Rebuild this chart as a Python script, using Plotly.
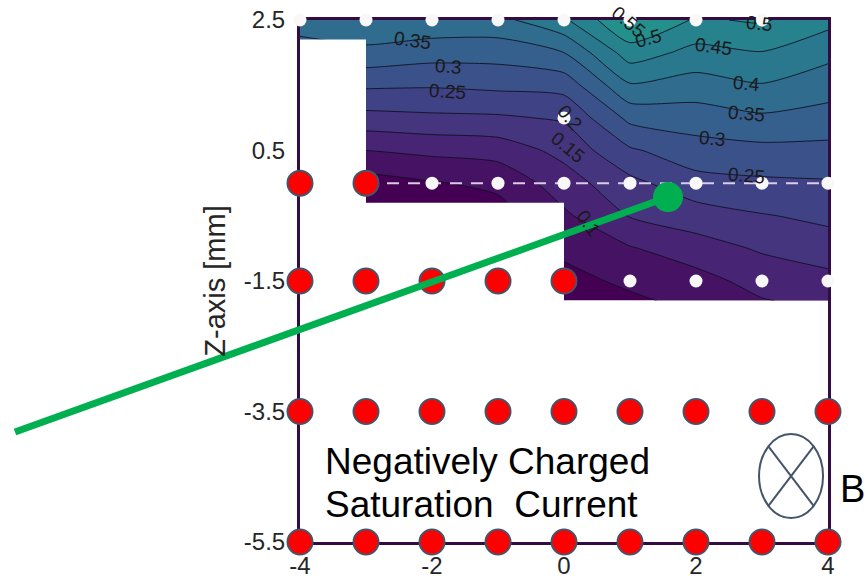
import plotly.graph_objects as go

# ---------------- data ----------------
grid_x = [-4, -3, -2, -1, 0, 1, 2, 3, 4]
grid_y = [-1.8, -1.5, -1.0, -0.5, 0.0, 0.5, 1.0, 1.5, 2.0, 2.5]
# z values per x column, listed from y=-1.8 up to y=2.5
col_m4 = [0.02, 0.02, 0.02, 0.02, 0.030, 0.100, 0.180, 0.260, 0.330, 0.370]
col_m3 = [0.02, 0.02, 0.02, 0.02, 0.029, 0.100, 0.183, 0.258, 0.336, 0.395]
col_m2 = [0.02, 0.02, 0.02, 0.02, 0.046, 0.112, 0.190, 0.255, 0.321, 0.387]
col_m1 = [0.02, 0.02, 0.02, 0.03, 0.061, 0.121, 0.193, 0.262, 0.321, 0.385]
col_0 = [0.015, 0.032, 0.062, 0.091, 0.127, 0.165, 0.206, 0.269, 0.350, 0.442]
col_1 = [0.040, 0.061, 0.096, 0.153, 0.186, 0.243, 0.313, 0.395, 0.476, 0.555]
col_2 = [0.065, 0.081, 0.128, 0.176, 0.232, 0.279, 0.325, 0.378, 0.434, 0.494]
col_3 = [0.097, 0.119, 0.156, 0.197, 0.241, 0.286, 0.342, 0.397, 0.448, 0.506]
col_4 = [0.113, 0.132, 0.180, 0.210, 0.245, 0.286, 0.330, 0.373, 0.414, 0.466]
columns = [col_m4, col_m3, col_m2, col_m1, col_0, col_1, col_2, col_3, col_4]
z = [[col[j] for col in columns] for j in range(len(grid_y))]

# region without data (drawn white)
mask_x = [-4.3, -4.3, -3.0, -3.0, 0.0, 0.0, -4.3]
mask_y = [-1.95, 2.2, 2.2, -0.3, -0.3, -1.95, -1.95]

# measurement points
white_x = [-4, -3, -2, -1, 0, 1, 2, 3, 0, -2, -1, 0, 1, 2, 3, 4, 1, 2, 3, 4]
white_y = [2.5, 2.5, 2.5, 2.5, 2.5, 2.5, 2.5, 2.5, 1.0, 0, 0, 0, 0, 0, 0, 0, -1.5, -1.5, -1.5, -1.5]
red_x = [-4, -3, -4, -3, -2, -1, 0] + [-4, -3, -2, -1, 0, 1, 2, 3, 4] * 2
red_y = [0, 0] + [-1.5] * 5 + [-3.5] * 9 + [-5.5] * 9

dash_x = [-3, 4]
dash_y = [0, 0]

green_x = [-8.318, 1.576]
green_y = [-3.814, -0.213]

# contour labels
clabel_text = ['0.35', '0.3', '0.25', '0.2', '0.15', '0.1', '0.55', '0.5', '0.45',
               '0.4', '0.35', '0.3', '0.25', '0.5']
clabel_x = [-2.29, -1.76, -1.76, 0.09, 0.06, 0.36, 0.97, 1.27, 2.26, 2.76, 2.76, 2.24, 2.76, 2.95]
clabel_y = [2.19, 1.78, 1.40, 1.01, 0.54, -0.61, 2.47, 2.22, 2.09, 1.53, 1.06, 0.68, 0.12, 2.44]
clabel_angle = [8, 4, 4, 50, 40, 55, 40, -15, 8, 5, 5, 5, 5, 5]

xtick_vals = [-4, -2, 0, 2, 4]
xtick_text = ['-4', '-2', '0', '2', '4']
ytick_vals = [2.5, 0.5, -1.5, -3.5, -5.5]
ytick_text = ['2.5', '0.5', '-1.5', '-3.5', '-5.5']

# ---------------- layout geometry ----------------
W, H = 868, 584
XD = [300 / W, 828 / W]
YD = [1 - 542 / H, 1 - 20 / H]
xr = [-4, 4]
yr = [-5.5, 2.5]
x2r = [xr[0] - (xr[1] - xr[0]) * XD[0] / (XD[1] - XD[0]),
       xr[1] + (xr[1] - xr[0]) * (1 - XD[1]) / (XD[1] - XD[0])]
y2r = [yr[0] - (yr[1] - yr[0]) * YD[0] / (YD[1] - YD[0]),
       yr[1] + (yr[1] - yr[0]) * (1 - YD[1]) / (YD[1] - YD[0])]

FONT = 'Liberation Sans, Arial, sans-serif'

fig = go.Figure()
fig.add_trace(go.Contour(
    x=grid_x, y=grid_y, z=z, colorscale='Viridis',
    contours=dict(start=0.05, end=1.0, size=0.05, coloring='fill', showlabels=False),
    line=dict(color='rgba(15,15,30,0.85)', width=1, smoothing=0.6),
    showscale=False, hoverinfo='skip'))
fig.add_trace(go.Scatter(x=mask_x, y=mask_y, mode='lines', fill='toself',
                         fillcolor='white', line=dict(width=0, color='white'),
                         hoverinfo='skip', showlegend=False))
fig.add_trace(go.Scatter(x=dash_x, y=dash_y, mode='lines',
                         line=dict(color='rgba(228,212,240,0.95)', width=2, dash='12px,9px'),
                         hoverinfo='skip', showlegend=False))
fig.add_trace(go.Scatter(x=white_x, y=white_y, mode='markers', cliponaxis=False,
                         marker=dict(size=13, color='#f8f8f8', line=dict(width=0)),
                         hoverinfo='skip', showlegend=False))
fig.add_trace(go.Scatter(x=red_x, y=red_y, mode='markers', cliponaxis=False,
                         marker=dict(size=25, color='#ff0000', line=dict(width=2, color='#44546a')),
                         hoverinfo='skip', showlegend=False))
fig.add_trace(go.Scatter(x=green_x, y=green_y, xaxis='x2', yaxis='y2', mode='lines',
                         line=dict(color='#00b050', width=7),
                         hoverinfo='skip', showlegend=False))
fig.add_trace(go.Scatter(x=green_x[1:], y=green_y[1:], xaxis='x2', yaxis='y2', mode='markers',
                         cliponaxis=False, marker=dict(size=30, color='#00b050'),
                         hoverinfo='skip', showlegend=False))

annotations = []
for t, x, y, a in zip(clabel_text, clabel_x, clabel_y, clabel_angle):
    annotations.append(dict(x=x, y=y, xref='x', yref='y', text=t, showarrow=False,
                            textangle=a, font=dict(family=FONT, size=19, color='#1a1a1a')))
annotations.append(dict(x=-3.65, y=-4.26, xref='x', yref='y', xanchor='left', yanchor='middle',
                        text='Negatively Charged', showarrow=False,
                        font=dict(family=FONT, size=37, color='black')))
annotations.append(dict(x=-3.65, y=-4.92, xref='x', yref='y', xanchor='left', yanchor='middle',
                        text='Saturation\u00a0\u00a0Current', showarrow=False,
                        font=dict(family=FONT, size=37, color='black')))
# "B" sits right of the axes, so it is placed on the full-figure overlay axes
annotations.append(dict(x=4.15, y=-4.69, xref='x2', yref='y2', xanchor='left', yanchor='middle',
                        text='B', showarrow=False,
                        font=dict(family=FONT, size=38, color='black')))

# B-field symbol (circle with cross)
bx, by, brx, bry = 3.44, -4.49, 0.485, 0.644
shapes = [
    dict(type='circle', xref='x', yref='y', x0=bx - brx, x1=bx + brx, y0=by - bry, y1=by + bry,
         line=dict(color='#44546a', width=2)),
    dict(type='line', xref='x', yref='y', x0=bx - brx * 0.707, x1=bx + brx * 0.707,
         y0=by + bry * 0.707, y1=by - bry * 0.707, line=dict(color='#44546a', width=2)),
    dict(type='line', xref='x', yref='y', x0=bx - brx * 0.707, x1=bx + brx * 0.707,
         y0=by - bry * 0.707, y1=by + bry * 0.707, line=dict(color='#44546a', width=2)),
]

fig.update_layout(
    width=W, height=H, margin=dict(l=0, r=0, t=0, b=0, autoexpand=False),
    paper_bgcolor='white', plot_bgcolor='rgba(0,0,0,0)',
    showlegend=False, annotations=annotations, shapes=shapes,
    xaxis=dict(domain=XD, range=xr, tickvals=xtick_vals, ticktext=xtick_text,
               tickfont=dict(family=FONT, size=24, color='#262626'),
               showline=True, linecolor='#330c44', linewidth=3, mirror=True,
               showgrid=False, zeroline=False, ticks='', layer='below traces',
               ticklabelstandoff=0, anchor='y', automargin=False),
    yaxis=dict(domain=YD, range=yr, tickvals=ytick_vals, ticktext=ytick_text,
               tickfont=dict(family=FONT, size=24, color='#262626'),
               showline=True, linecolor='#330c44', linewidth=3, mirror=True,
               showgrid=False, zeroline=False, ticks='', layer='below traces',
               ticklabelstandoff=7, anchor='x', automargin=False,
               title=dict(text='Z-axis [mm]', font=dict(family=FONT, size=29, color='#262626'),
                          standoff=10)),
    xaxis2=dict(domain=[0, 1], range=x2r, visible=False, anchor='y2', fixedrange=True),
    yaxis2=dict(domain=[0, 1], range=y2r, visible=False, anchor='x2', fixedrange=True),
)

fig.write_html('out.html', config={'displayModeBar': False},
               post_script="document.body.style.margin='0';document.body.style.overflow='hidden';")
